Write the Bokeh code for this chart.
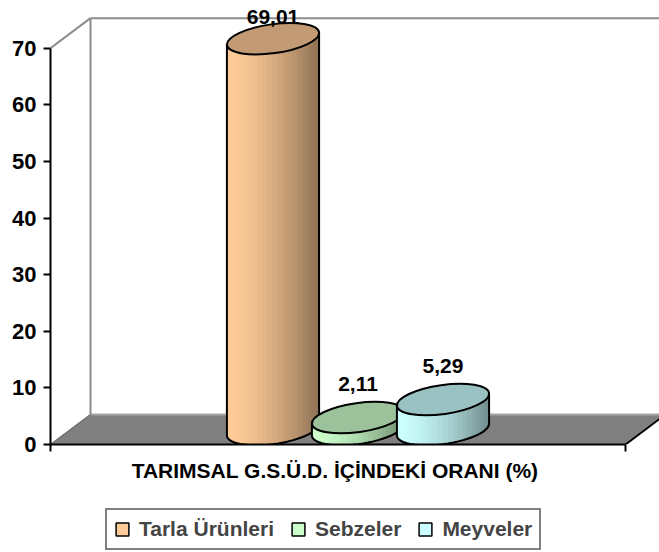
import numpy as np
from bokeh.plotting import figure
from bokeh.layouts import column
from bokeh.models import Range1d, FixedTicker, Legend, LegendItem
from bokeh.embed import file_html
from bokeh.resources import INLINE
from bokeh.core.properties import value

# ---- data ----
category = "TARIMSAL  G.S.Ü.D. İÇİNDEKİ ORANI (%)"
series = ["Tarla Ürünleri", "Sebzeler", "Meyveler"]
values = [69.01, 2.11, 5.29]
value_labels = ["69,01", "2,11", "5,29"]
base_colors = ["#FFCC99", "#CCFFCC", "#CCFFFF"]
y_ticks = [0, 10, 20, 30, 40, 50, 60, 70]

# ---- layout / style constants ----
FONT = "Liberation Sans"
FS = "21px"
W, H1, H2 = 659, 506, 46
LEFT, TOP, BOTTOM = 50, 8, 62
FW, FH = W - LEFT, H1 - BOTTOM - TOP
PX_X = 575.0                 # pixels per category unit (front face width)
Y_END = 77.0
PX_Y = FH / Y_END            # pixels per value unit
X_END = FW / PX_X
DX, DY = 40 / PX_X, 30 / PX_Y          # 3D depth offset
SPACING = 85 / PX_X
A, B, TH = 46.5, 14.5, 0.14            # cylinder ellipse (px) and tilt
N = 28


def hex_to_rgb(h):
    h = h.lstrip("#")
    return tuple(int(h[i:i + 2], 16) for i in (0, 2, 4))


def shade(h, f):
    r, g, b = hex_to_rgb(h)
    return "#%02x%02x%02x" % tuple(max(0, min(255, int(round(c * f)))) for c in (r, g, b))


p = figure(width=W, height=H1, x_range=Range1d(0, X_END), y_range=Range1d(0, Y_END),
           output_backend="svg", toolbar_location=None, title=None,
           min_border_left=LEFT, min_border_bottom=BOTTOM, min_border_top=TOP, min_border_right=0)
p.grid.visible = False
p.outline_line_color = None
p.background_fill_color = "white"
p.border_fill_color = "white"

# ---- axes ----
yax = p.yaxis[0]
yax.ticker = FixedTicker(ticks=y_ticks)
yax.bounds = (0, max(y_ticks))
yax.axis_line_width = 2
yax.axis_line_color = "black"
yax.major_tick_line_width = 2
yax.major_tick_line_color = "black"
yax.major_tick_out = 7
yax.major_tick_in = 0
yax.minor_tick_line_color = None
yax.major_label_text_font = FONT
yax.major_label_text_font_size = "22px"
yax.major_label_text_font_style = "bold"
yax.major_label_text_color = "black"
yax.major_label_standoff = 7

xax = p.xaxis[0]
xax.ticker = FixedTicker(ticks=[0.5], minor_ticks=[0, 1])
xax.bounds = (0, 1)
xax.major_label_overrides = {0.5: category}
xax.axis_line_width = 2
xax.axis_line_color = "black"
xax.major_tick_line_color = None
xax.major_tick_out = 7
xax.major_tick_in = 0
xax.minor_tick_out = 7
xax.minor_tick_in = 0
xax.minor_tick_line_width = 2
xax.minor_tick_line_color = "black"
xax.major_label_text_font = FONT
xax.major_label_text_font_size = FS
xax.major_label_text_font_style = "bold"
xax.major_label_text_color = "black"
xax.major_label_standoff = 7

# ---- walls and floor ----
top = max(y_ticks)
p.patch([0, 1, 1 + DX, DX], [0, 0, DY, DY], fill_color="#808080", line_color=None)
p.segment(x0=[DX], y0=[DY], x1=[1 + DX], y1=[DY], line_color="#a6a6a6", line_width=2)
p.segment(x0=[0], y0=[0], x1=[DX], y1=[DY], line_color="#6e6e6e", line_width=1.5)
p.segment(x0=[1], y0=[0], x1=[1 + DX], y1=[DY], line_color="black", line_width=2)
p.segment(x0=[0, DX, DX, 1 + DX], y0=[top, DY, top + DY, DY],
          x1=[DX, DX, 1 + DX, 1 + DX], y1=[top + DY, top + DY, top + DY, top + DY],
          line_color="#8c8c8c", line_width=2)

# ---- cylinders ----
t0 = np.arctan2(-B * np.sin(TH), A * np.cos(TH))
ts = np.linspace(t0 + np.pi, t0 + 2 * np.pi, N + 1)
ex_px = A * np.cos(ts) * np.cos(TH) - B * np.sin(ts) * np.sin(TH)
ey_px = A * np.cos(ts) * np.sin(TH) + B * np.sin(ts) * np.cos(TH)
ex, ey = ex_px / PX_X, ey_px / PX_Y

silhouettes = []
label_x, label_y = [], []
y0 = DY / 2
for i, (name, v, col) in enumerate(zip(series, values, base_colors)):
    cx = 0.5 + (i - 1) * SPACING + DX / 2
    y1 = y0 + v
    # silhouette
    sx = list(cx + ex) + list(cx + ex[::-1])
    sy = list(y0 + ey) + list(y1 + ey[::-1])
    silhouettes.append((sx, sy))
    p.patch(sx, sy, fill_color=col, line_color="black", line_width=1.5)
    # shading stripes
    xs, ys, cols = [], [], []
    for k in range(N):
        xs.append([cx + ex[k], cx + ex[k + 1], cx + ex[k + 1], cx + ex[k]])
        ys.append([y0 + ey[k], y0 + ey[k + 1], y1 + ey[k + 1], y1 + ey[k]])
        u = ((ex_px[k] + ex_px[k + 1]) / 2 - ex_px[0]) / (ex_px[-1] - ex_px[0])
        cols.append(shade(col, 1.0 - 0.45 * u ** 1.6))
    p.patches(xs, ys, fill_color=cols, line_color=cols, line_width=0.8)
    # outline
    ox = [cx + ex[0]] + list(cx + ex) + [cx + ex[-1]]
    oy = [y1 + ey[0]] + list(y0 + ey) + [y1 + ey[-1]]
    p.line(ox, oy, line_color="black", line_width=2)
    # top
    p.ellipse(x=[cx], y=[y1], width=2 * A / PX_X, height=2 * B / PX_Y, angle=TH,
              fill_color=shade(col, 0.76), line_color="black", line_width=2)
    label_x.append(cx)
    label_y.append(min(y1 + 34 / PX_Y, Y_END - 8 / PX_Y))

p.text(x=label_x, y=label_y, text=value_labels, text_align="center", text_baseline="middle",
       text_font=value(FONT), text_font_size=FS, text_font_style="bold", text_color="black")

# ---- legend strip (proxy renderers kept outside the visible range) ----
p2 = figure(width=W, height=H2, x_range=Range1d(0, X_END), y_range=Range1d(-20, -10),
            output_backend="svg", toolbar_location=None, title=None,
            x_axis_type=None, y_axis_type=None,
            min_border_left=LEFT, min_border_right=0, min_border_top=0, min_border_bottom=0)
p2.grid.visible = False
p2.outline_line_color = None
p2.border_fill_color = "white"
p2.background_fill_color = "white"
items = []
for name, col, (sx, sy) in zip(series, base_colors, silhouettes):
    r = p2.patch(sx, sy, fill_color=col, line_color="black", line_width=1.5)
    items.append(LegendItem(label=name, renderers=[r]))

legend = Legend(items=items, orientation="horizontal", location=(55, 2),
                border_line_color="black", border_line_width=2, padding=7, spacing=16,
                margin=0, glyph_width=16, glyph_height=16, label_standoff=9,
                label_text_font=FONT, label_text_font_size=FS, label_text_font_style="bold",
                background_fill_color="white", background_fill_alpha=1.0)
p2.add_layout(legend)

layout = column(p, p2, spacing=0)
open("out.html", "w").write(file_html(layout, INLINE))
